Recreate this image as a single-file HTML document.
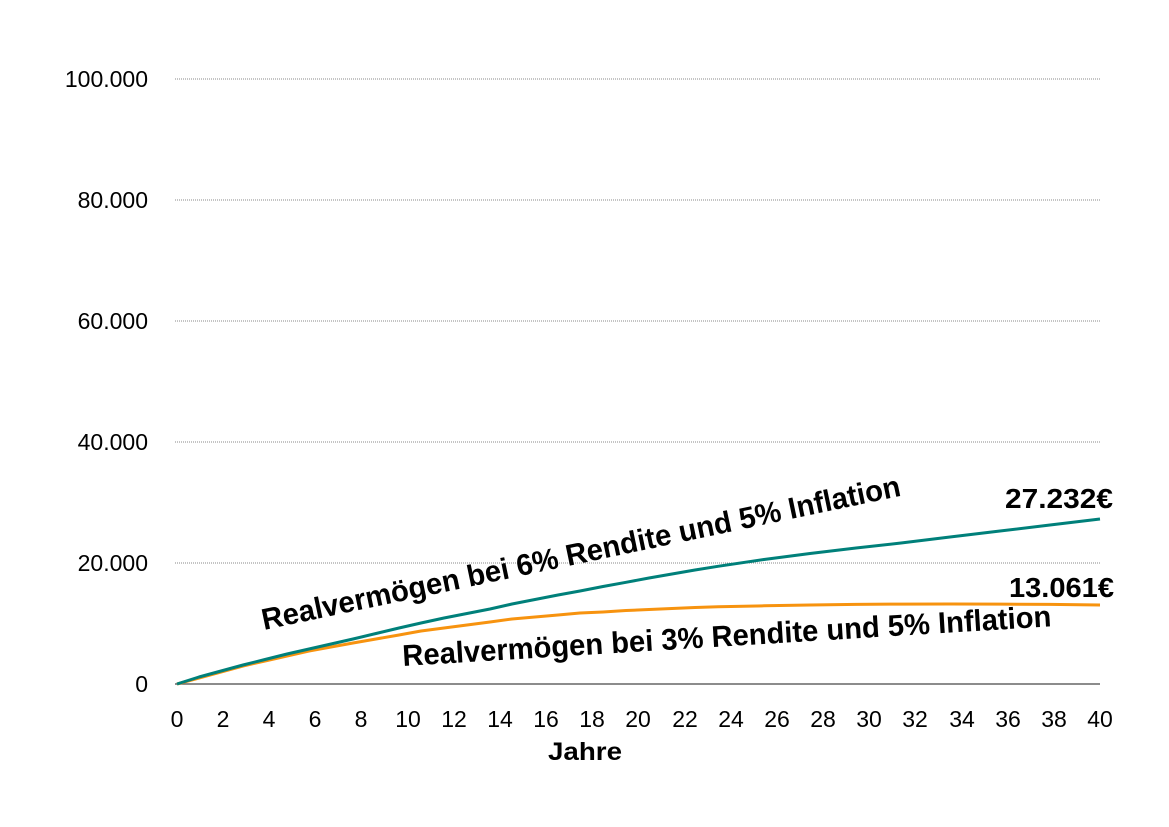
<!DOCTYPE html>
<html><head><meta charset="utf-8"><style>
html,body{margin:0;padding:0;background:#fff;}
svg{display:block;}
</style></head><body>
<svg width="1169" height="827" viewBox="0 0 1169 827" xmlns="http://www.w3.org/2000/svg">
<g stroke="#888" stroke-width="1" stroke-dasharray="1,1">
<line x1="175" y1="79" x2="1100" y2="79"/>
<line x1="175" y1="200" x2="1100" y2="200"/>
<line x1="175" y1="321" x2="1100" y2="321"/>
<line x1="175" y1="442" x2="1100" y2="442"/>
<line x1="175" y1="563" x2="1100" y2="563"/>
</g>
<line x1="175" y1="684" x2="1100" y2="684" stroke="#666" stroke-width="1.5"/>
<g font-family="Liberation Sans, Arial, sans-serif" font-size="23" fill="#000" text-anchor="end">
<text x="148" y="87">100.000</text>
<text x="148" y="208">80.000</text>
<text x="148" y="329">60.000</text>
<text x="148" y="450">40.000</text>
<text x="148" y="571">20.000</text>
<text x="148" y="692">0</text>
</g>
<g font-family="Liberation Sans, Arial, sans-serif" font-size="23" fill="#000" text-anchor="middle">
<text x="177" y="727">0</text><text x="223" y="727">2</text><text x="269" y="727">4</text><text x="315" y="727">6</text><text x="361" y="727">8</text>
<text x="408" y="727">10</text><text x="454" y="727">12</text><text x="500" y="727">14</text><text x="546" y="727">16</text><text x="592" y="727">18</text>
<text x="638" y="727">20</text><text x="685" y="727">22</text><text x="731" y="727">24</text><text x="777" y="727">26</text><text x="823" y="727">28</text>
<text x="869" y="727">30</text><text x="915" y="727">32</text><text x="962" y="727">34</text><text x="1008" y="727">36</text><text x="1054" y="727">38</text><text x="1100" y="727">40</text>
</g>
<text x="585" y="760" font-family="Liberation Sans, Arial, sans-serif" font-size="25" font-weight="bold" text-anchor="middle" textLength="74" lengthAdjust="spacingAndGlyphs">Jahre</text>
<polyline fill="none" stroke="#f7930f" stroke-width="3" stroke-linejoin="round" points="177,684 199,678 221,672 243,666 265,661 287,656 309,651 331,647 353,643 376,639 399,635 421,631 444,628 467,625 490,622 512,619 535,617 558,615 580,613 603,612 626,610.5 649,609.5 672,608.5 695,607.5 718,606.8 764,605.8 810,605 856,604.4 901,604.1 950,604 1000,604.1 1050,604.4 1100,605"/>
<polyline fill="none" stroke="#00807a" stroke-width="3" stroke-linejoin="round" points="177,684 199,677 221,671 243,665 265,659.5 287,654 309,649 331,644 353,639 376,633.5 399,628 421,623 444,618 467,613.5 490,609 512,604 535,599.5 558,595 580,591 603,586.5 626,582.3 649,578 672,574 695,570 718,566.3 764,559.5 810,553.5 856,548 901,543 950,537 1000,531 1050,525 1100,519"/>
<g font-family="Liberation Sans, Arial, sans-serif" fill="#000">
<text transform="translate(264,630) rotate(-11.9)" font-size="30" font-weight="bold" textLength="652" lengthAdjust="spacingAndGlyphs">Realvermögen bei 6% Rendite und 5% Inflation</text>
<text transform="translate(403,666) rotate(-3.5)" font-size="30" font-weight="bold" textLength="650" lengthAdjust="spacingAndGlyphs">Realvermögen bei 3% Rendite und 5% Inflation</text>
<text x="1005" y="508" font-size="28" font-weight="bold" textLength="108" lengthAdjust="spacingAndGlyphs">27.232€</text>
<text x="1009" y="597" font-size="28" font-weight="bold" textLength="105" lengthAdjust="spacingAndGlyphs">13.061€</text>
</g>
</svg>
</body></html>
